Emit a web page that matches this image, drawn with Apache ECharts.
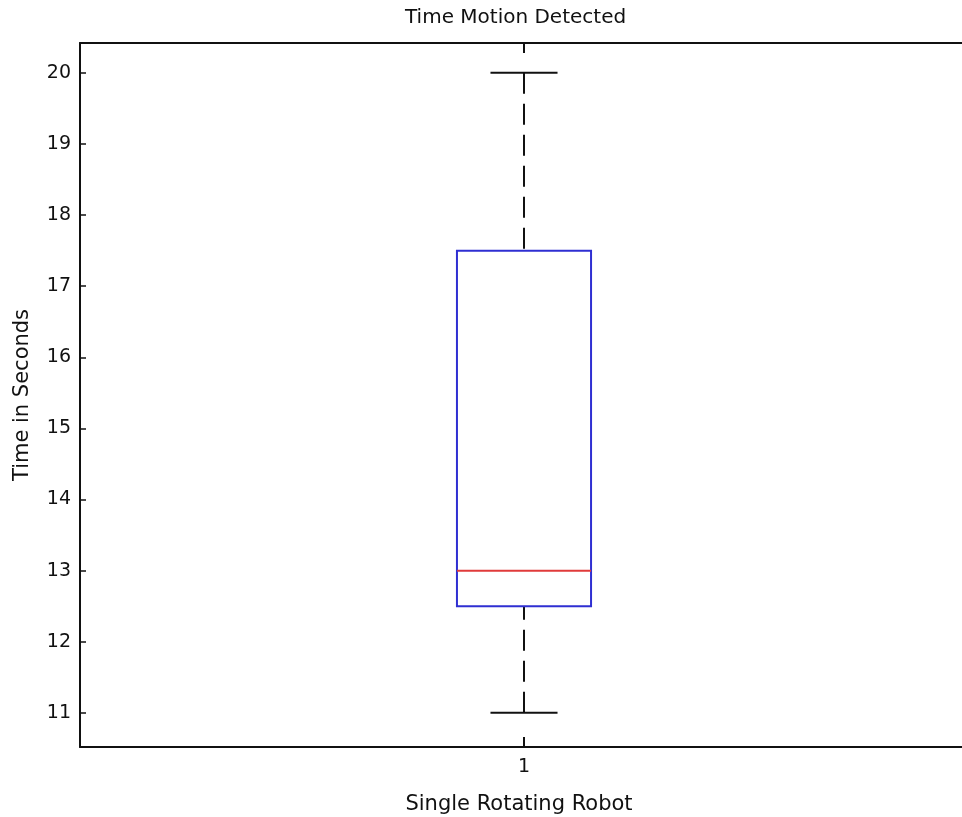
<!DOCTYPE html>
<html>
<head>
<meta charset="utf-8">
<script src="https://cdn.jsdelivr.net/npm/echarts@6/dist/echarts.min.js"></script>
<style>
html,body{margin:0;padding:0;background:#fff;}
#chart{width:962px;height:817px;}
</style>
</head>
<body>
<div id="chart"></div>
<script>
// ---- data ----
const categories = ['1'];
const whiskerLow = [11];
const q1 = [12.5];
const median = [13];
const q3 = [17.5];
const whiskerHigh = [20];
const yTicks = [11, 12, 13, 14, 15, 16, 17, 18, 19, 20];
const titleText = 'Time Motion Detected';
const xName = 'Single Rotating Robot';
const yName = 'Time in Seconds';

const boxData = categories.map((c, i) => [i, whiskerLow[i], q1[i], median[i], q3[i], whiskerHigh[i]]);

const FONT = 'DejaVu Sans';
const chart = echarts.init(document.getElementById('chart'), null, {renderer: 'canvas'});

function renderBox(params, api) {
  const xi = api.value(0);
  const pLow = api.coord([xi, api.value(1)]);
  const pQ1 = api.coord([xi, api.value(2)]);
  const pMed = api.coord([xi, api.value(3)]);
  const pQ3 = api.coord([xi, api.value(4)]);
  const pHigh = api.coord([xi, api.value(5)]);
  const band = api.size([1, 0])[0];
  const half = band * 0.151 / 2;
  const capHalf = half / 2;
  const cx = pMed[0];
  const black = {stroke: '#111', lineWidth: 2};
  const dashed = {stroke: '#111', lineWidth: 2, lineDash: [21, 10]};
  return {
    type: 'group',
    children: [
      {type: 'line', shape: {x1: cx, y1: pHigh[1], x2: cx, y2: pQ3[1]}, style: dashed},
      {type: 'line', shape: {x1: cx, y1: pLow[1], x2: cx, y2: pQ1[1]}, style: dashed},
      {type: 'line', shape: {x1: cx - capHalf, y1: pHigh[1], x2: cx + capHalf, y2: pHigh[1]}, style: black},
      {type: 'line', shape: {x1: cx - capHalf, y1: pLow[1], x2: cx + capHalf, y2: pLow[1]}, style: black},
      {type: 'rect', shape: {x: cx - half, y: pQ3[1], width: 2 * half, height: pQ1[1] - pQ3[1]},
        style: {fill: 'none', stroke: '#2f2fd2', lineWidth: 2}},
      {type: 'line', shape: {x1: cx - half, y1: pMed[1], x2: cx + half, y2: pMed[1]},
        style: {stroke: '#e03a3a', lineWidth: 2}}
    ]
  };
}

const yMin = 10.52, yMax = 20.42;
const axisLineStyle = {color: '#111', width: 2};

chart.setOption({
  animation: false,
  backgroundColor: '#fff',
  title: {
    text: titleText,
    left: 400, top: 3,
    textStyle: {fontFamily: FONT, fontSize: 20, fontWeight: 'normal', color: '#111'}
  },
  grid: {left: 80, top: 43, width: 888, height: 704, containLabel: false, outerBoundsMode: 'none'},
  xAxis: [
    {
      type: 'category', data: categories, position: 'bottom',
      boundaryGap: true,
      axisLine: {show: true, lineStyle: axisLineStyle},
      axisTick: {show: true, inside: true, length: 10, alignWithLabel: true, lineStyle: {color: '#111', width: 2}},
      axisLabel: {show: true, margin: 11, fontFamily: FONT, fontSize: 19, color: '#111'},
      splitLine: {show: false},
      name: xName, nameLocation: 'middle', nameGap: 47,
      nameTextStyle: {fontFamily: FONT, fontSize: 21, color: '#111', padding: [0, 10, 0, 0]}
    },
    {
      type: 'category', data: categories, position: 'top',
      boundaryGap: true,
      axisLine: {show: true, lineStyle: axisLineStyle},
      axisTick: {show: true, inside: true, length: 10, alignWithLabel: true, lineStyle: {color: '#111', width: 2}},
      axisLabel: {show: false},
      splitLine: {show: false}
    }
  ],
  yAxis: [
    {
      type: 'value', position: 'left', min: yMin, max: yMax,
      axisLine: {show: true, lineStyle: axisLineStyle},
      axisTick: {show: true, inside: true, length: 6, customValues: yTicks, lineStyle: {color: '#111', width: 1.5}},
      axisLabel: {show: true, margin: 9, customValues: yTicks, fontFamily: FONT, fontSize: 19, color: '#111'},
      splitLine: {show: false},
      name: yName, nameLocation: 'middle', nameGap: 47, nameRotate: 90,
      nameTextStyle: {fontFamily: FONT, fontSize: 21, color: '#111'}
    },
    {
      type: 'value', position: 'right', min: yMin, max: yMax,
      axisLine: {show: true, lineStyle: axisLineStyle},
      axisTick: {show: true, inside: true, length: 6, customValues: yTicks, lineStyle: {color: '#111', width: 1.5}},
      axisLabel: {show: false},
      splitLine: {show: false}
    }
  ],
  series: [
    {
      type: 'custom',
      xAxisIndex: 0, yAxisIndex: 0,
      renderItem: renderBox,
      encode: {x: 0, y: [1, 2, 3, 4, 5]},
      data: boxData,
      clip: false
    }
  ]
});
</script>
</body>
</html>
